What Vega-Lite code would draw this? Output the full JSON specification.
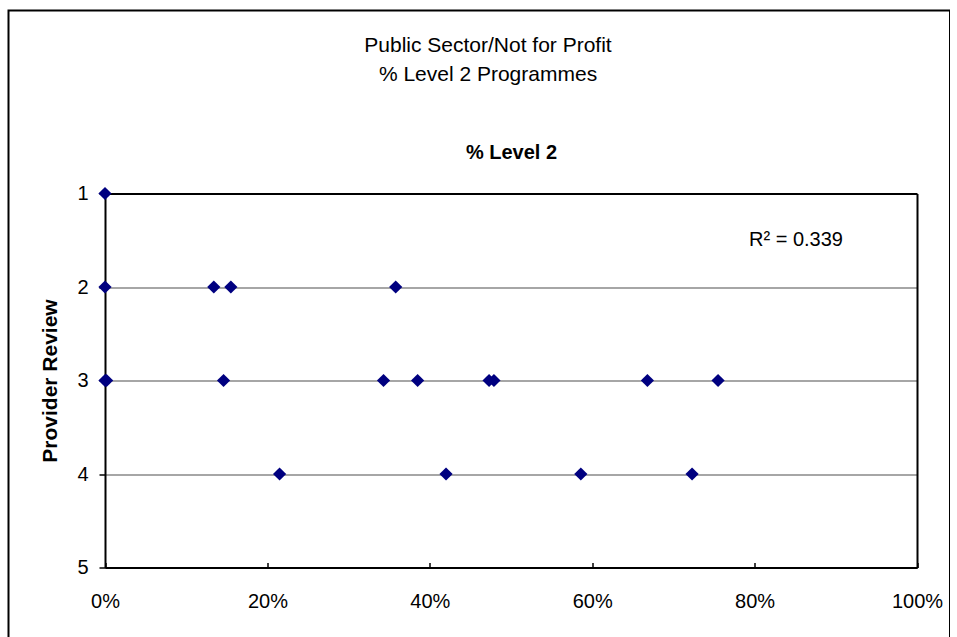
{
  "$schema": "https://vega.github.io/schema/vega-lite/v6.json",
  "width": 941.5,
  "height": 640,
  "autosize": {"type": "none"},
  "padding": {"left": 8.5, "top": 10.5, "right": 0, "bottom": 0},
  "background": "white",
  "title": {
    "text": ["Public Sector/Not for Profit", "% Level 2 Programmes"],
    "anchor": "middle",
    "frame": "group",
    "dx": 8.75,
    "offset": -74,
    "font": "Liberation Sans",
    "fontSize": 21,
    "fontWeight": "normal",
    "lineHeight": 29,
    "color": "black"
  },
  "datasets": {
    "reviews": [
      {"level2_pct": 0.0, "provider_review": 1},
      {"level2_pct": 0.0, "provider_review": 2},
      {"level2_pct": 0.134, "provider_review": 2},
      {"level2_pct": 0.155, "provider_review": 2},
      {"level2_pct": 0.358, "provider_review": 2},
      {"level2_pct": 0.0, "provider_review": 3},
      {"level2_pct": 0.002, "provider_review": 3},
      {"level2_pct": 0.146, "provider_review": 3},
      {"level2_pct": 0.343, "provider_review": 3},
      {"level2_pct": 0.385, "provider_review": 3},
      {"level2_pct": 0.473, "provider_review": 3},
      {"level2_pct": 0.479, "provider_review": 3},
      {"level2_pct": 0.668, "provider_review": 3},
      {"level2_pct": 0.755, "provider_review": 3},
      {"level2_pct": 0.215, "provider_review": 4},
      {"level2_pct": 0.42, "provider_review": 4},
      {"level2_pct": 0.586, "provider_review": 4},
      {"level2_pct": 0.723, "provider_review": 4}
    ],
    "fit": [
      {"label": "R² = 0.339"}
    ]
  },
  "resolve": {"axis": {"y": "independent"}},
  "layer": [
    {
      "data": {"name": "reviews"},
      "mark": {
        "type": "point",
        "shape": "diamond",
        "filled": true,
        "size": 175,
        "color": "#000080",
        "opacity": 1
      },
      "encoding": {
        "x": {
          "field": "level2_pct",
          "type": "quantitative",
          "scale": {"domain": [0, 1], "range": [96.5, 908.5], "nice": false, "zero": false},
          "axis": {
            "values": [0, 0.2, 0.4, 0.6, 0.8, 1],
            "format": ".0%",
            "offset": -83,
            "domainColor": "black",
            "domainWidth": 2,
            "tickColor": "black",
            "tickWidth": 1.5,
            "tickSize": -5,
            "labelFlush": false,
            "labelPadding": 29,
            "labelFont": "Liberation Sans",
            "labelFontSize": 20,
            "labelColor": "black",
            "grid": false,
            "title": "% Level 2",
            "titleFont": "Liberation Sans",
            "titleFontSize": 20,
            "titleFontWeight": "bold",
            "titleColor": "black",
            "titleBaseline": "alphabetic",
            "titleY": -409
          }
        },
        "y": {
          "field": "provider_review",
          "type": "quantitative",
          "scale": {"domain": [1, 5], "range": [183, 557], "nice": false, "zero": false},
          "axis": {
            "values": [1, 2, 3, 4, 5],
            "format": "d",
            "offset": -96.5,
            "domainColor": "black",
            "domainWidth": 2,
            "tickColor": "black",
            "tickWidth": 1.5,
            "tickSize": 6,
            "labelFlush": false,
            "labelPadding": 11,
            "labelFont": "Liberation Sans",
            "labelFontSize": 20,
            "labelColor": "black",
            "grid": true,
            "gridColor": {"condition": {"test": "datum.value == 1 || datum.value == 5", "value": "black"}, "value": "#888888"},
            "gridWidth": {"condition": {"test": "datum.value == 1 || datum.value == 5", "value": 2}, "value": 1.5},
            "title": "Provider Review",
            "titleFont": "Liberation Sans",
            "titleFontSize": 21,
            "titleFontWeight": "bold",
            "titleColor": "black",
            "titlePadding": 16
          }
        }
      }
    },
    {
      "data": {"name": "fit"},
      "mark": {
        "type": "text",
        "font": "Liberation Sans",
        "fontSize": 20,
        "color": "black",
        "align": "center",
        "baseline": "middle"
      },
      "encoding": {
        "x": {"datum": 0.851},
        "y": {
          "datum": 1.5,
          "axis": {
            "orient": "right",
            "offset": -33,
            "domainColor": "black",
            "domainWidth": 2,
            "ticks": false,
            "labels": false,
            "grid": false,
            "title": null
          }
        },
        "text": {"field": "label"}
      }
    }
  ],
  "config": {
    "view": {"stroke": "black", "strokeWidth": 2}
  }
}
